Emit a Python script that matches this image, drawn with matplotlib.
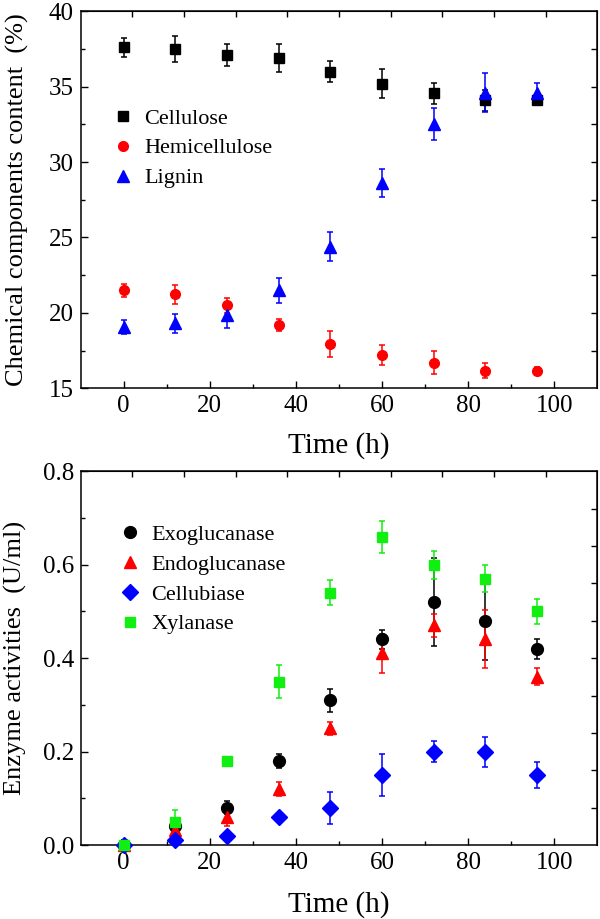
import matplotlib
matplotlib.use("Agg")
import matplotlib.pyplot as plt
from matplotlib.lines import Line2D
import numpy as np

plt.rcParams['font.family'] = ['Liberation Serif', 'DejaVu Serif']

# ---------------- data ----------------
time_h = [0, 12, 24, 36, 48, 60, 72, 84, 96]

cellulose = [37.6, 37.5, 37.1, 36.9, 36.0, 35.2, 34.55, 34.1, 34.1]
cellulose_err = [0.6, 0.88, 0.7, 0.9, 0.69, 0.97, 0.67, 0.7, 0.3]
hemicellulose = [21.5, 21.25, 20.5, 19.2, 17.95, 17.2, 16.7, 16.15, 16.15]
hemicellulose_err = [0.42, 0.63, 0.52, 0.4, 0.88, 0.64, 0.77, 0.5, 0.25]
lignin = [19.05, 19.3, 19.85, 21.5, 24.4, 28.6, 32.5, 34.6, 34.55]
lignin_err = [0.48, 0.64, 0.83, 0.82, 0.99, 0.91, 1.06, 1.29, 0.72]

exoglucanase = [0.0, 0.04, 0.08, 0.18, 0.31, 0.44, 0.52, 0.48, 0.42]
exoglucanase_err = [0.01, 0.01, 0.014, 0.015, 0.025, 0.021, 0.095, 0.084, 0.021]
endoglucanase = [0.0, 0.032, 0.06, 0.12, 0.25, 0.41, 0.47, 0.44, 0.36]
endoglucanase_err = [0.005, 0.01, 0.02, 0.015, 0.014, 0.041, 0.024, 0.062, 0.018]
cellubiase = [0.0, 0.01, 0.02, 0.06, 0.08, 0.15, 0.20, 0.20, 0.15]
cellubiase_err = [0.01, 0.005, 0.004, 0.004, 0.034, 0.045, 0.023, 0.032, 0.028]
xylanase = [0.0, 0.05, 0.18, 0.35, 0.54, 0.66, 0.60, 0.57, 0.50]
xylanase_err = [0.003, 0.025, 0.0, 0.035, 0.027, 0.034, 0.030, 0.029, 0.026]

x_ticks = [0, 20, 40, 60, 80, 100]
x_top_ticks = [2, 14, 26, 38, 50, 62, 74, 86, 98]
top_y_ticks = [15, 20, 25, 30, 35, 40]
top_y_right = [17.5, 20, 22.5, 25, 27.5, 30, 32.5, 35, 37.5]
bot_y_ticks = [0.0, 0.2, 0.4, 0.6, 0.8]
bot_y_right = [0.08, 0.16, 0.24, 0.32, 0.40, 0.48, 0.56, 0.64, 0.72]

GREEN = '#11ee11'

fig = plt.figure(figsize=(6.0, 9.19), dpi=100)
ax1 = fig.add_axes([0.1345, 0.5775, 0.861, 0.4102])
ax2 = fig.add_axes([0.1345, 0.0805, 0.861, 0.4067])

TICK_FS = 18
LABEL_FS = 21
YLABEL_FS = 19
LEG_FS = 16


def style_axes(ax, xlabelpad):
    for s in ax.spines.values():
        s.set_linewidth(1.1)
    ax.set_xlim(-10, 110)
    ax.set_xticks(x_ticks)
    ax.set_xticks(np.arange(10, 100, 20), minor=True)
    ax.tick_params(axis='both', which='major', direction='in', length=5, width=1.0,
                   labelsize=TICK_FS, pad=5, top=False, right=False)
    ax.tick_params(axis='both', which='minor', direction='in', length=3, width=1.0,
                   top=False, right=False)
    ax.set_xlabel('Time (h)', fontsize=LABEL_FS, labelpad=xlabelpad)
    tx = ax.secondary_xaxis('top')
    tx.set_xticks(x_top_ticks)
    tx.tick_params(direction='in', length=4, width=1.0, labeltop=False)
    tx.set_xticklabels([])
    return tx


def ebar(ax, y, e, marker, color, ms, label):
    ax.errorbar(time_h, y, yerr=e, fmt=marker, color=color, ms=ms, mec=color,
                ecolor=color, elinewidth=1.1, capsize=2.5, capthick=1.1,
                clip_on=False, zorder=3)
    return Line2D([], [], linestyle='none', marker=marker, color=color,
                  mec=color, ms=ms, label=label)


# ---------------- top panel ----------------
style_axes(ax1, 10.5)
ax1.set_ylim(15, 40)
ax1.set_yticks(top_y_ticks)
ax1.set_yticks([17.5, 22.5, 27.5, 32.5, 37.5], minor=True)
ry1 = ax1.secondary_yaxis('right')
ry1.set_yticks(top_y_right)
ry1.tick_params(direction='in', length=4, width=1.0, labelright=False)
ry1.set_yticklabels([])

h1 = [ebar(ax1, cellulose, cellulose_err, 's', 'black', 6.5, 'Cellulose'),
      ebar(ax1, hemicellulose, hemicellulose_err, 'o', '#ff0000', 7, 'Hemicellulose'),
      ebar(ax1, lignin, lignin_err, '^', '#0000ff', 8, 'Lignin')]
ax1.set_ylabel('Chemical components content  (%)', fontsize=YLABEL_FS, labelpad=14.5)
ax1.legend(handles=h1, loc='upper left', bbox_to_anchor=(0.043, 0.767), frameon=False,
           fontsize=LEG_FS, handlelength=1.0, handletextpad=0.45,
           labelspacing=0.42, borderaxespad=0.0)

# ---------------- bottom panel ----------------
style_axes(ax2, 12)
ax2.set_ylim(0, 0.8)
ax2.set_yticks(bot_y_ticks)
ax2.set_yticklabels(['0.0', '0.2', '0.4', '0.6', '0.8'])
ax2.set_yticks([0.1, 0.3, 0.5, 0.7], minor=True)
ry2 = ax2.secondary_yaxis('right')
ry2.set_yticks(bot_y_right)
ry2.tick_params(direction='in', length=4, width=1.0, labelright=False)
ry2.set_yticklabels([])

h2 = [ebar(ax2, exoglucanase, exoglucanase_err, 'o', 'black', 8.5, 'Exoglucanase'),
      ebar(ax2, endoglucanase, endoglucanase_err, '^', '#ff0000', 9, 'Endoglucanase'),
      ebar(ax2, cellubiase, cellubiase_err, 'D', '#0000ff', 8, 'Cellubiase'),
      ebar(ax2, xylanase, xylanase_err, 's', GREEN, 7.5, 'Xylanase')]
ax2.set_ylabel('Enzyme activities  (U/ml)', fontsize=YLABEL_FS, labelpad=11)
ax2.legend(handles=h2, loc='upper left', bbox_to_anchor=(0.057, 0.882), frameon=False,
           fontsize=LEG_FS, handlelength=1.0, handletextpad=0.45,
           labelspacing=0.42, borderaxespad=0.0)

fig.savefig('out.png', dpi=100)
